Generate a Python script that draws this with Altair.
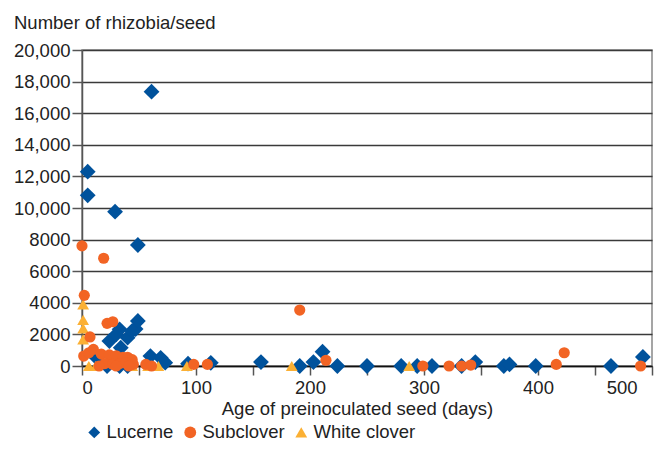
import altair as alt
import pandas as pd

# ---- data ----
lucerne_days = [5, 5, 29, 61, 49, 49, 47, 33, 24, 40, 44, 34, 30, 60, 69, 73, 22, 33, 40, 13,
                93, 113, 157, 191, 203, 211, 224, 250, 280, 294, 307, 333, 345, 370, 375, 398, 464, 492]
lucerne_vals = [12300, 10800, 9770, 17360, 7660, 2850, 2340, 2320, 1580, 1790, 2220, 1160, 2000, 630, 520, 210, 0, 0, 0, 500,
                150, 200, 250, 0, 250, 900, 0, 0, 0, 0, 0, 0, 250, 0, 100, 0, 0, 570]

sub_days = [0, 19, 2, 7, 1.5, 6, 10, 22, 27, 17, 24, 30, 36, 40, 44, 20, 27, 33, 38, 45, 15, 30, 41,
            56, 61, 98, 110, 191, 214, 299, 322, 333, 341, 416, 423, 490]
sub_vals = [7600, 6820, 4470, 1840, 630, 840, 1050, 2700, 2800, 750, 700, 650, 550, 550, 400, 150, 100, 150, 200, 100, 0, 0, 0,
            100, 0, 100, 100, 3540, 360, 0, 0, 0, 60, 100, 840, 0]

white_days = [1, 1, 1, 1, 6, 12, 44, 58, 67, 92, 184, 287]
white_vals = [3900, 2920, 2380, 1690, 0, 0, 0, 0, 0, 0, 0, 0]

species = ["Lucerne", "Subclover", "White clover"]
colors = ["#00529C", "#F26424", "#FBB034"]
shapes = ["diamond", "circle", "triangle-up"]

x_ticks = [0, 50, 100, 150, 200, 250, 300, 350, 400, 450, 500]
y_ticks = [0, 2000, 4000, 6000, 8000, 10000, 12000, 14000, 16000, 18000, 20000]

df_l = pd.DataFrame({"day": lucerne_days, "val": lucerne_vals, "species": "Lucerne"})
df_s = pd.DataFrame({"day": sub_days, "val": sub_vals, "species": "Subclover"})
df_w = pd.DataFrame({"day": white_days, "val": white_vals, "species": "White clover"})

FONT = "Liberation Sans"
FS = 18.5
TXT = "#222"

x_enc = alt.X("day:Q",
              scale=alt.Scale(domain=[0, 500], nice=False, zero=False),
              axis=alt.Axis(values=x_ticks, title="Age of preinoculated seed (days)",
                            grid=False, tickSize=9, tickColor="#555555", tickWidth=1.5,
                            domainColor="#111111", domainWidth=1.5,
                            labelPadding=3, labelFontSize=FS, labelColor=TXT, labelFont=FONT,
                            labelOffset={"condition": {"test": "datum.value === 500", "value": -15}, "value": 0},
                            titleFontSize=FS, titleFontWeight="normal", titleColor=TXT, titleFont=FONT,
                            titleX=275, titleY=48, titleBaseline="alphabetic"))
y_enc = alt.Y("val:Q",
              scale=alt.Scale(domain=[0, 20000], nice=False),
              axis=alt.Axis(values=y_ticks, title="Number of rhizobia/seed",
                            labelExpr="datum.value >= 10000 ? format(datum.value, ',') : format(datum.value, 'd')",
                            grid=True, gridColor="#3a3a3a", gridWidth=1.5,
                            tickSize=10, tickColor="#555555", tickWidth=1.5,
                            domainColor="#555555", domainWidth=1.5,
                            labelPadding=2, labelFontSize=FS, labelColor=TXT, labelFont=FONT,
                            titleFontSize=FS, titleFontWeight="normal", titleColor=TXT, titleFont=FONT,
                            titleAngle=0, titleAlign="left", titleX=-68.5, titleY=-22,
                            titleBaseline="alphabetic"))
color_enc = alt.Color("species:N",
                      scale=alt.Scale(domain=species, range=colors),
                      legend=alt.Legend(title=None, orient="none", direction="horizontal",
                                        legendX=3, legendY=373, labelFontSize=FS, labelColor=TXT,
                                        labelFont=FONT,
                                        symbolSize=140, labelOffset=3, columnPadding=7))
shape_enc = alt.Shape("species:N", scale=alt.Scale(domain=species, range=shapes))

base = alt.Chart().encode(x=x_enc, y=y_enc, color=color_enc, shape=shape_enc)

lay_l = base.mark_point(filled=True, opacity=1, size=250).properties(data=df_l)
lay_w = base.mark_point(filled=True, opacity=1, size=140).properties(data=df_w)
lay_s = base.mark_point(filled=True, opacity=1, size=125).properties(data=df_s)

chart = alt.layer(lay_l, lay_w, lay_s).properties(
    width=570, height=316,
).configure_view(
    stroke="#888888", strokeWidth=1.5,
)

chart.save("out.html", embed_options={"renderer": "svg", "actions": False})
